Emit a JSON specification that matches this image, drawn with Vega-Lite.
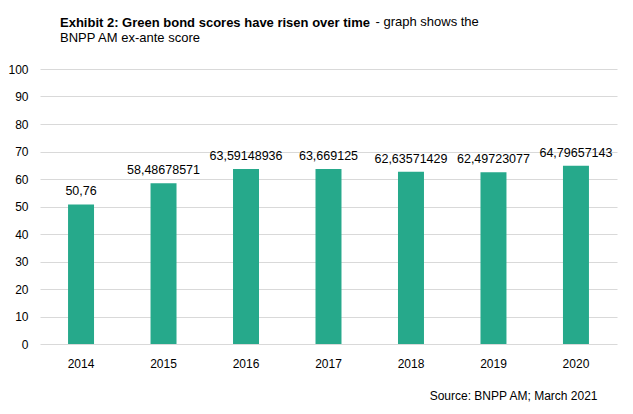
{
  "$schema": "https://vega.github.io/schema/vega-lite/v6.json",
  "autosize": "none",
  "width": 577,
  "height": 275,
  "padding": {"left": 40, "top": 69, "right": 16, "bottom": 70},
  "background": "#ffffff",
  "config": {
    "locale": {"number": {"decimal": ",", "thousands": ".", "grouping": [3], "currency": ["", " €"]}},
    "font": "Liberation Sans",
    "view": {"stroke": null}
  },
  "title": {
    "text": "Exhibit 2: Green bond scores have risen over time",
    "subtitle": "BNPP AM ex-ante score",
    "anchor": "start",
    "frame": "group",
    "dx": 20,
    "offset": -30,
    "font": "Liberation Sans",
    "fontSize": 13,
    "fontWeight": "bold",
    "color": "#000000",
    "subtitleFont": "Liberation Sans",
    "subtitleFontSize": 13,
    "subtitleFontWeight": "normal",
    "subtitleColor": "#000000",
    "subtitlePadding": 2
  },
  "data": {
    "values": [
      {"year": "2014", "score": 50.76},
      {"year": "2015", "score": 58.48678571},
      {"year": "2016", "score": 63.59148936},
      {"year": "2017", "score": 63.669125},
      {"year": "2018", "score": 62.63571429},
      {"year": "2019", "score": 62.49723077},
      {"year": "2020", "score": 64.79657143}
    ]
  },
  "encoding": {
    "x": {
      "field": "year",
      "type": "nominal",
      "scale": {"paddingInner": 0.685, "paddingOuter": 0.34},
      "axis": {
        "title": "Source: BNPP AM; March 2021",
        "titleFont": "Liberation Sans",
        "titleFontSize": 12,
        "titleFontWeight": "normal",
        "titleColor": "#000000",
        "titleAnchor": "end",
        "titleX": 557,
        "titleY": 46,
        "titleAlign": "right",
        "labelAngle": 0,
        "labelFontSize": 12,
        "labelColor": "#000000",
        "labelPadding": 14,
        "ticks": false,
        "domain": false
      }
    },
    "y": {
      "field": "score",
      "type": "quantitative",
      "scale": {"domain": [0, 100], "nice": false},
      "axis": {
        "title": "- graph shows the",
        "titleFont": "Liberation Sans",
        "titleFontSize": 13,
        "titleFontWeight": "normal",
        "titleColor": "#000000",
        "titleAngle": 0,
        "titleAlign": "left",
        "titleBaseline": "alphabetic",
        "titleX": 335,
        "titleY": -44,
        "values": [0, 10, 20, 30, 40, 50, 60, 70, 80, 90, 100],
        "labelFontSize": 12,
        "labelColor": "#000000",
        "labelPadding": 12,
        "ticks": false,
        "domain": false,
        "gridColor": "#d9d9d9",
        "gridWidth": 1
      }
    }
  },
  "layer": [
    {"mark": {"type": "bar", "color": "#26A98B"}},
    {
      "mark": {"type": "text", "baseline": "bottom", "dy": -6, "fontSize": 12.5, "color": "#000000"},
      "encoding": {"text": {"field": "score", "type": "quantitative", "format": ".10~r"}}
    }
  ]
}
